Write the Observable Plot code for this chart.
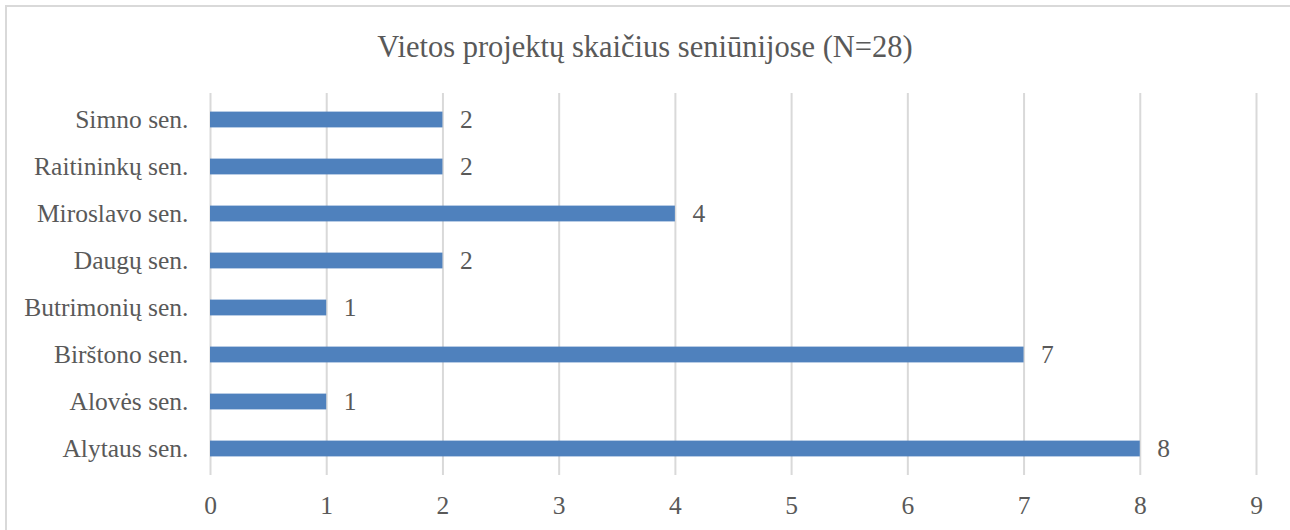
<!DOCTYPE html>
<html>
<head>
<meta charset="utf-8">
<script src="https://cdn.jsdelivr.net/npm/d3@7"></script>
<script src="https://cdn.jsdelivr.net/npm/@observablehq/plot@0.6"></script>
<style>
  html, body { margin: 0; padding: 0; background: #fff; }
  #wrap { position: relative; width: 1290px; height: 530px; overflow: hidden; }
  #frame { position: absolute; left: 5px; top: 5px; width: 1400px; height: 600px; border-top: 2px solid #d9d9d9; border-left: 2px solid #d9d9d9; }
  #title { position: absolute; left: 0; width: 1290px; top: 29px; text-align: center; font-family: "Liberation Serif"; font-size: 30.5px; line-height: 36px; color: #595959; }
  #chart { position: absolute; left: 0; top: 0; }
</style>
</head>
<body>
<div id="wrap">
  <div id="frame"></div>
  <div id="title">Vietos projektų skaičius seniūnijose (N=28)</div>
  <div id="chart"></div>
</div>
<script>
const categories = ["Simno sen.", "Raitininkų sen.", "Miroslavo sen.", "Daugų sen.", "Butrimonių sen.", "Birštono sen.", "Alovės sen.", "Alytaus sen."];
const values = [2, 2, 4, 2, 1, 7, 1, 8];
const xTicks = [0, 1, 2, 3, 4, 5, 6, 7, 8, 9];

const data = categories.map((c, i) => ({ category: c, value: values[i] }));

const chart = Plot.plot({
  width: 1290,
  height: 530,
  marginLeft: 210,
  marginRight: 34,
  marginTop: 93,
  marginBottom: 55,
  style: { fontFamily: "Liberation Serif", fontSize: "25.5px", color: "#595959", background: "transparent", overflow: "visible" },
  x: { domain: [0, 9], ticks: xTicks, tickFormat: d => String(d), label: null },
  y: { domain: categories, padding: 0, label: null },
  marks: [
    Plot.gridX(xTicks, { stroke: "#d9d9d9", strokeOpacity: 1, strokeWidth: 2 }),
    Plot.barX(data, { x: "value", y: "category", fill: "#4f81bd", insetTop: 15.6, insetBottom: 15.6 }),
    Plot.text(data, { x: "value", y: "category", text: d => String(d.value), textAnchor: "start", dx: 17, fill: "#595959" }),
    Plot.axisX(xTicks, { tickSize: 0, tickPadding: 20, fill: "#595959", label: null, tickFormat: d => String(d) }),
    Plot.axisY({ tickSize: 0, tickPadding: 22, fill: "#595959", label: null })
  ]
});
document.getElementById("chart").appendChild(chart);
</script>
</body>
</html>
